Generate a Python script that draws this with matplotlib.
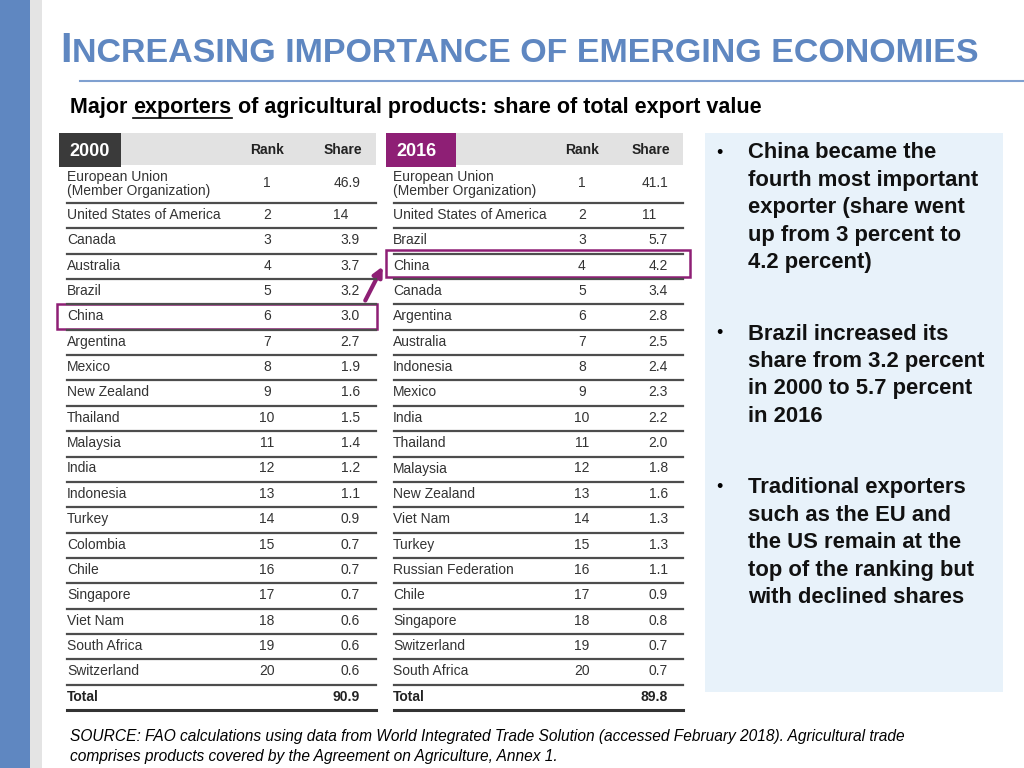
import matplotlib.pyplot as plt
from matplotlib.patches import Rectangle, FancyArrowPatch

# data
countries_2000 = ['European Union\n(Member Organization)', 'United States of America', 'Canada',
                  'Australia', 'Brazil', 'China', 'Argentina', 'Mexico', 'New Zealand', 'Thailand',
                  'Malaysia', 'India', 'Indonesia', 'Turkey', 'Colombia', 'Chile', 'Singapore',
                  'Viet Nam', 'South Africa', 'Switzerland']
share_2000 = ['46.9', '14', '3.9', '3.7', '3.2', '3.0', '2.7', '1.9', '1.6', '1.5', '1.4', '1.2',
              '1.1', '0.9', '0.7', '0.7', '0.7', '0.6', '0.6', '0.6']
total_2000 = '90.9'

countries_2016 = ['European Union\n(Member Organization)', 'United States of America', 'Brazil',
                  'China', 'Canada', 'Argentina', 'Australia', 'Indonesia', 'Mexico', 'India',
                  'Thailand', 'Malaysia', 'New Zealand', 'Viet Nam', 'Turkey', 'Russian Federation',
                  'Chile', 'Singapore', 'Switzerland', 'South Africa']
share_2016 = ['41.1', '11', '5.7', '4.2', '3.4', '2.8', '2.5', '2.4', '2.3', '2.2', '2.0', '1.8',
              '1.6', '1.3', '1.3', '1.1', '0.9', '0.8', '0.7', '0.7']
total_2016 = '89.8'

bullets = [['China became the', 'fourth most important', 'exporter (share went',
            'up from 3 percent to', '4.2 percent)'],
           ['Brazil increased its', 'share from 3.2 percent', 'in 2000 to 5.7 percent', 'in 2016'],
           ['Traditional exporters', 'such as the EU and', 'the US remain at the',
            'top of the ranking but', 'with declined shares']]

blue = '#5f87c1'
purple = '#8e1f75'

plt.rcParams['font.family'] = 'Liberation Sans'

fig = plt.figure(figsize=(10.24, 7.68), dpi=100)
ax = fig.add_axes([0, 0, 1, 1])
ax.set_xlim(0, 1024)
ax.set_ylim(768, 0)
ax.axis('off')
renderer = fig.canvas.get_renderer()


def right_edge(t):
    return t.get_window_extent(renderer).x1


# side stripes
ax.add_patch(Rectangle((0, 0), 30, 768, color=blue, lw=0))
ax.add_patch(Rectangle((30, 0), 12, 768, color='#e4e4e4', lw=0))

# title (small caps look)
t = ax.text(60, 62, 'I', fontsize=30, fontweight='bold', color=blue, va='baseline')
ax.text(right_edge(t) + 1, 62, 'NCREASING IMPORTANCE OF EMERGING ECONOMIES', fontsize=24.5,
        fontweight='bold', color=blue, va='baseline')
ax.plot([80, 1024], [81, 81], color='#7fa0d0', lw=1.5)

# subtitle with underlined word
sk = dict(fontsize=15.5, fontweight='bold', va='baseline')
t1 = ax.text(70, 113, 'Major ', **sk)
x1 = right_edge(t1)
t2 = ax.text(x1, 113, 'exporters', **sk)
x2 = right_edge(t2)
ax.plot([x1, x2], [118, 118], color='black', lw=1.2)
ax.text(x2, 113, ' of agricultural products: share of total export value', **sk)


def share_text(x, y, s, **kw):
    # decimal aligned: integers end where the decimal point starts
    if '.' not in s:
        probe = ax.text(0, 0, '.0', **kw)
        bb = probe.get_window_extent(renderer)
        probe.remove()
        x = x - bb.width
    ax.text(x, y, s, ha='right', va='center', **kw)


def draw_table(x0, x1, xname, xrank, xr, names, shares, total, year, ycol, yw):
    tkw = dict(fontsize=10, color='#333333')
    bkw = dict(fontsize=10, color='#222222', fontweight='bold')
    ax.add_patch(Rectangle((x0, 133), x1 - x0, 32, color='#e2e2e2', lw=0))
    ax.add_patch(Rectangle((x0 - 2, 133), yw, 34, color=ycol, lw=0))
    ax.text(x0 + 8, 151, year, fontsize=13, fontweight='bold', color='white', va='center')
    ax.text(xrank, 150, 'Rank', ha='center', va='center', **bkw)
    ax.text(xr + 2, 150, 'Share', ha='right', va='center', **bkw)
    ax.plot([x0 + 6, x1], [203, 203], color='#4d4d4d', lw=1.6)
    ax.text(xname, 184, names[0], va='center', linespacing=1.0, **tkw)
    ax.text(xrank, 183, '1', ha='center', va='center', **tkw)
    share_text(xr, 183, shares[0], **tkw)
    for i in range(1, len(names)):
        y = 203 + 25.35 * (i - 1)
        yc = y + 12
        ax.text(xname, yc, names[i], va='center', **tkw)
        ax.text(xrank, yc, str(i + 1), ha='center', va='center', **tkw)
        share_text(xr, yc, shares[i], **tkw)
        ax.plot([x0 + 6, x1], [y + 25.35, y + 25.35], color='#4d4d4d', lw=1.6)
    y = 203 + 25.35 * 19
    ax.text(xname, y + 12, 'Total', va='center', **bkw)
    share_text(xr, y + 12, total, **bkw)
    ax.plot([x0 + 6, x1], [y + 25.35, y + 25.35], color='#333333', lw=2.2)


draw_table(61, 376, 67, 267, 360, countries_2000, share_2000, total_2000, '2000', '#3a3a3a', 62)
draw_table(388, 683, 393, 582, 668, countries_2016, share_2016, total_2016, '2016', purple, 70)

# highlight China
ax.add_patch(Rectangle((57, 304), 320, 25, fill=False, ec=purple, lw=1.8))
ax.add_patch(Rectangle((386, 250), 304, 27, fill=False, ec=purple, lw=1.8))
ax.add_patch(FancyArrowPatch((364, 303), (384, 264), arrowstyle='-|>', mutation_scale=14,
                             color=purple, lw=3))

# bullet panel
ax.add_patch(Rectangle((705, 133), 298, 559, color='#e8f2fa', lw=0))
for by, lines in zip([153, 334, 488], bullets):
    ax.text(716, by, '•', fontsize=13, va='center')
    for j, line in enumerate(lines):
        ax.text(748, by + 27.4 * j, line, fontsize=15.8, fontweight='bold', va='center',
                color='#111111')

# source
ax.text(70, 737, 'SOURCE: FAO calculations using data from World Integrated Trade Solution '
        '(accessed February 2018). Agricultural trade', fontsize=11.2, style='italic', va='center')
ax.text(70, 756, 'comprises products covered by the Agreement on Agriculture, Annex 1.',
        fontsize=11.2, style='italic', va='center')

fig.savefig('out.png', dpi=100)
